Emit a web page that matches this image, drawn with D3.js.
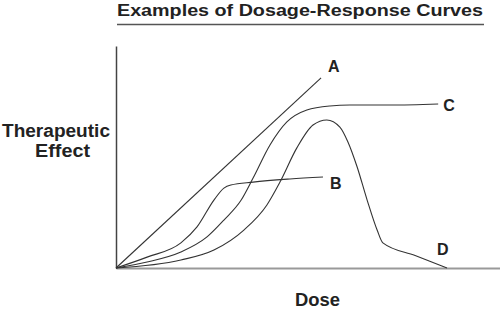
<!DOCTYPE html>
<html lang="en">
<head>
  <meta charset="utf-8">
  <style>
    body { margin: 0; padding: 0; background: #fff; }
    svg text { font-family: "Liberation Sans", Arial, Helvetica, sans-serif; font-weight: bold; fill: #222; }
    .axis text { display: none; }
  </style>
</head>
<body>
<svg width="500" height="311"></svg>
<script src="https://d3js.org/d3.v7.min.js"></script>
<script>
  // dose (0-100) vs therapeutic effect (0-100)
  var doseA = [0, 53.4];
  var effectA = [0, 85.6];

  var doseB = [0, 8.1, 16.9, 21.1, 25.5, 28.1, 29.9, 35.7, 45.3, 53.9];
  var effectB = [0, 4.9, 11.3, 18.5, 30.6, 36.0, 37.4, 38.7, 40.1, 41.0];

  var doseC = [0, 8.1, 16.9, 23.7, 28.1, 32.6, 35.7, 40.1, 44.5, 49.7, 55.7, 60.9, 71.4, 83.9];
  var effectC = [0, 2.7, 7.2, 14.0, 21.6, 30.6, 40.5, 55.4, 65.8, 71.2, 73.0, 73.4, 73.4, 73.9];

  var doseD = [0, 16.9, 25.5, 33.3, 39.3, 42.7, 47.1, 51.3, 54.9, 58.3, 60.4, 62.8, 65.4, 68.0, 69.5, 77.9, 86.2];
  var effectD = [0, 3.6, 8.1, 17.1, 28.4, 38.7, 54.1, 64.4, 66.7, 63.5, 56.8, 45.5, 30.6, 17.1, 11.3, 5.6, 0];

  var curveNames = ["A", "B", "C", "D"];

  var svg = d3.select("svg"),
    margin = { top: 46, right: 0, bottom: 43, left: 116 },
    width = +svg.attr("width") - margin.left - margin.right,
    height = +svg.attr("height") - margin.top - margin.bottom,
    g = svg.append("g").attr("transform", "translate(" + margin.left + "," + margin.top + ")");

  var x = d3.scaleLinear().domain([0, 100]).range([0, width]);
  var y = d3.scaleLinear().domain([0, 100]).range([height, 0]);

  function zipPts(xs, ys) {
    return xs.map(function(d, i) { return [d, ys[i]]; });
  }

  var series = [
    { name: curveNames[0], pts: zipPts(doseA, effectA), dx: 7, dy: -6, anchor: "start" },
    { name: curveNames[1], pts: zipPts(doseB, effectB), dx: 7, dy: 12, anchor: "start" },
    { name: curveNames[2], pts: zipPts(doseC, effectC), dx: 5, dy: 7, anchor: "start" },
    { name: curveNames[3], pts: zipPts(doseD, effectD), dx: -10, dy: -13, anchor: "start" }
  ];

  // title
  svg.append("text")
    .attr("x", 117)
    .attr("y", 16)
    .attr("textLength", 366)
    .attr("lengthAdjust", "spacingAndGlyphs")
    .style("font-size", "16px")
    .text("Examples of Dosage-Response Curves");

  svg.append("line")
    .attr("x1", 117).attr("x2", 484)
    .attr("y1", 24.5).attr("y2", 24.5)
    .attr("stroke", "#555")
    .attr("stroke-width", 1.5);

  // axes (no ticks)
  g.append("g")
    .attr("class", "axis")
    .attr("transform", "translate(0," + height + ")")
    .call(d3.axisBottom(x).ticks(0).tickSizeOuter(0))
    .select(".domain")
    .attr("stroke", "#999")
    .attr("stroke-width", 2);

  g.append("g")
    .attr("class", "axis")
    .call(d3.axisLeft(y).ticks(0).tickSizeOuter(0))
    .select(".domain")
    .attr("stroke", "#444")
    .attr("stroke-width", 1.5);

  var line = d3.line()
    .x(function(d) { return x(d[0]); })
    .y(function(d) { return y(d[1]); })
    .curve(d3.curveMonotoneX);

  g.selectAll(".curve")
    .data(series)
    .enter().append("path")
    .attr("class", "curve")
    .attr("fill", "none")
    .attr("stroke", "#333")
    .attr("stroke-width", 1.1)
    .attr("d", function(d) { return line(d.pts); });

  g.selectAll(".lbl")
    .data(series)
    .enter().append("text")
    .attr("class", "lbl")
    .attr("x", function(d) { return x(d.pts[d.pts.length - 1][0]) + d.dx; })
    .attr("y", function(d) { return y(d.pts[d.pts.length - 1][1]) + d.dy; })
    .attr("text-anchor", function(d) { return d.anchor; })
    .style("font-size", "16px")
    .text(function(d) { return d.name; });

  // axis titles
  svg.append("text")
    .attr("x", 2)
    .attr("y", 137)
    .attr("textLength", 108)
    .attr("lengthAdjust", "spacingAndGlyphs")
    .style("font-size", "18px")
    .text("Therapeutic");

  svg.append("text")
    .attr("x", 35)
    .attr("y", 157)
    .attr("textLength", 55)
    .attr("lengthAdjust", "spacingAndGlyphs")
    .style("font-size", "18px")
    .text("Effect");

  svg.append("text")
    .attr("x", 295)
    .attr("y", 306)
    .attr("textLength", 45)
    .attr("lengthAdjust", "spacingAndGlyphs")
    .style("font-size", "18px")
    .text("Dose");
</script>
</body>
</html>
